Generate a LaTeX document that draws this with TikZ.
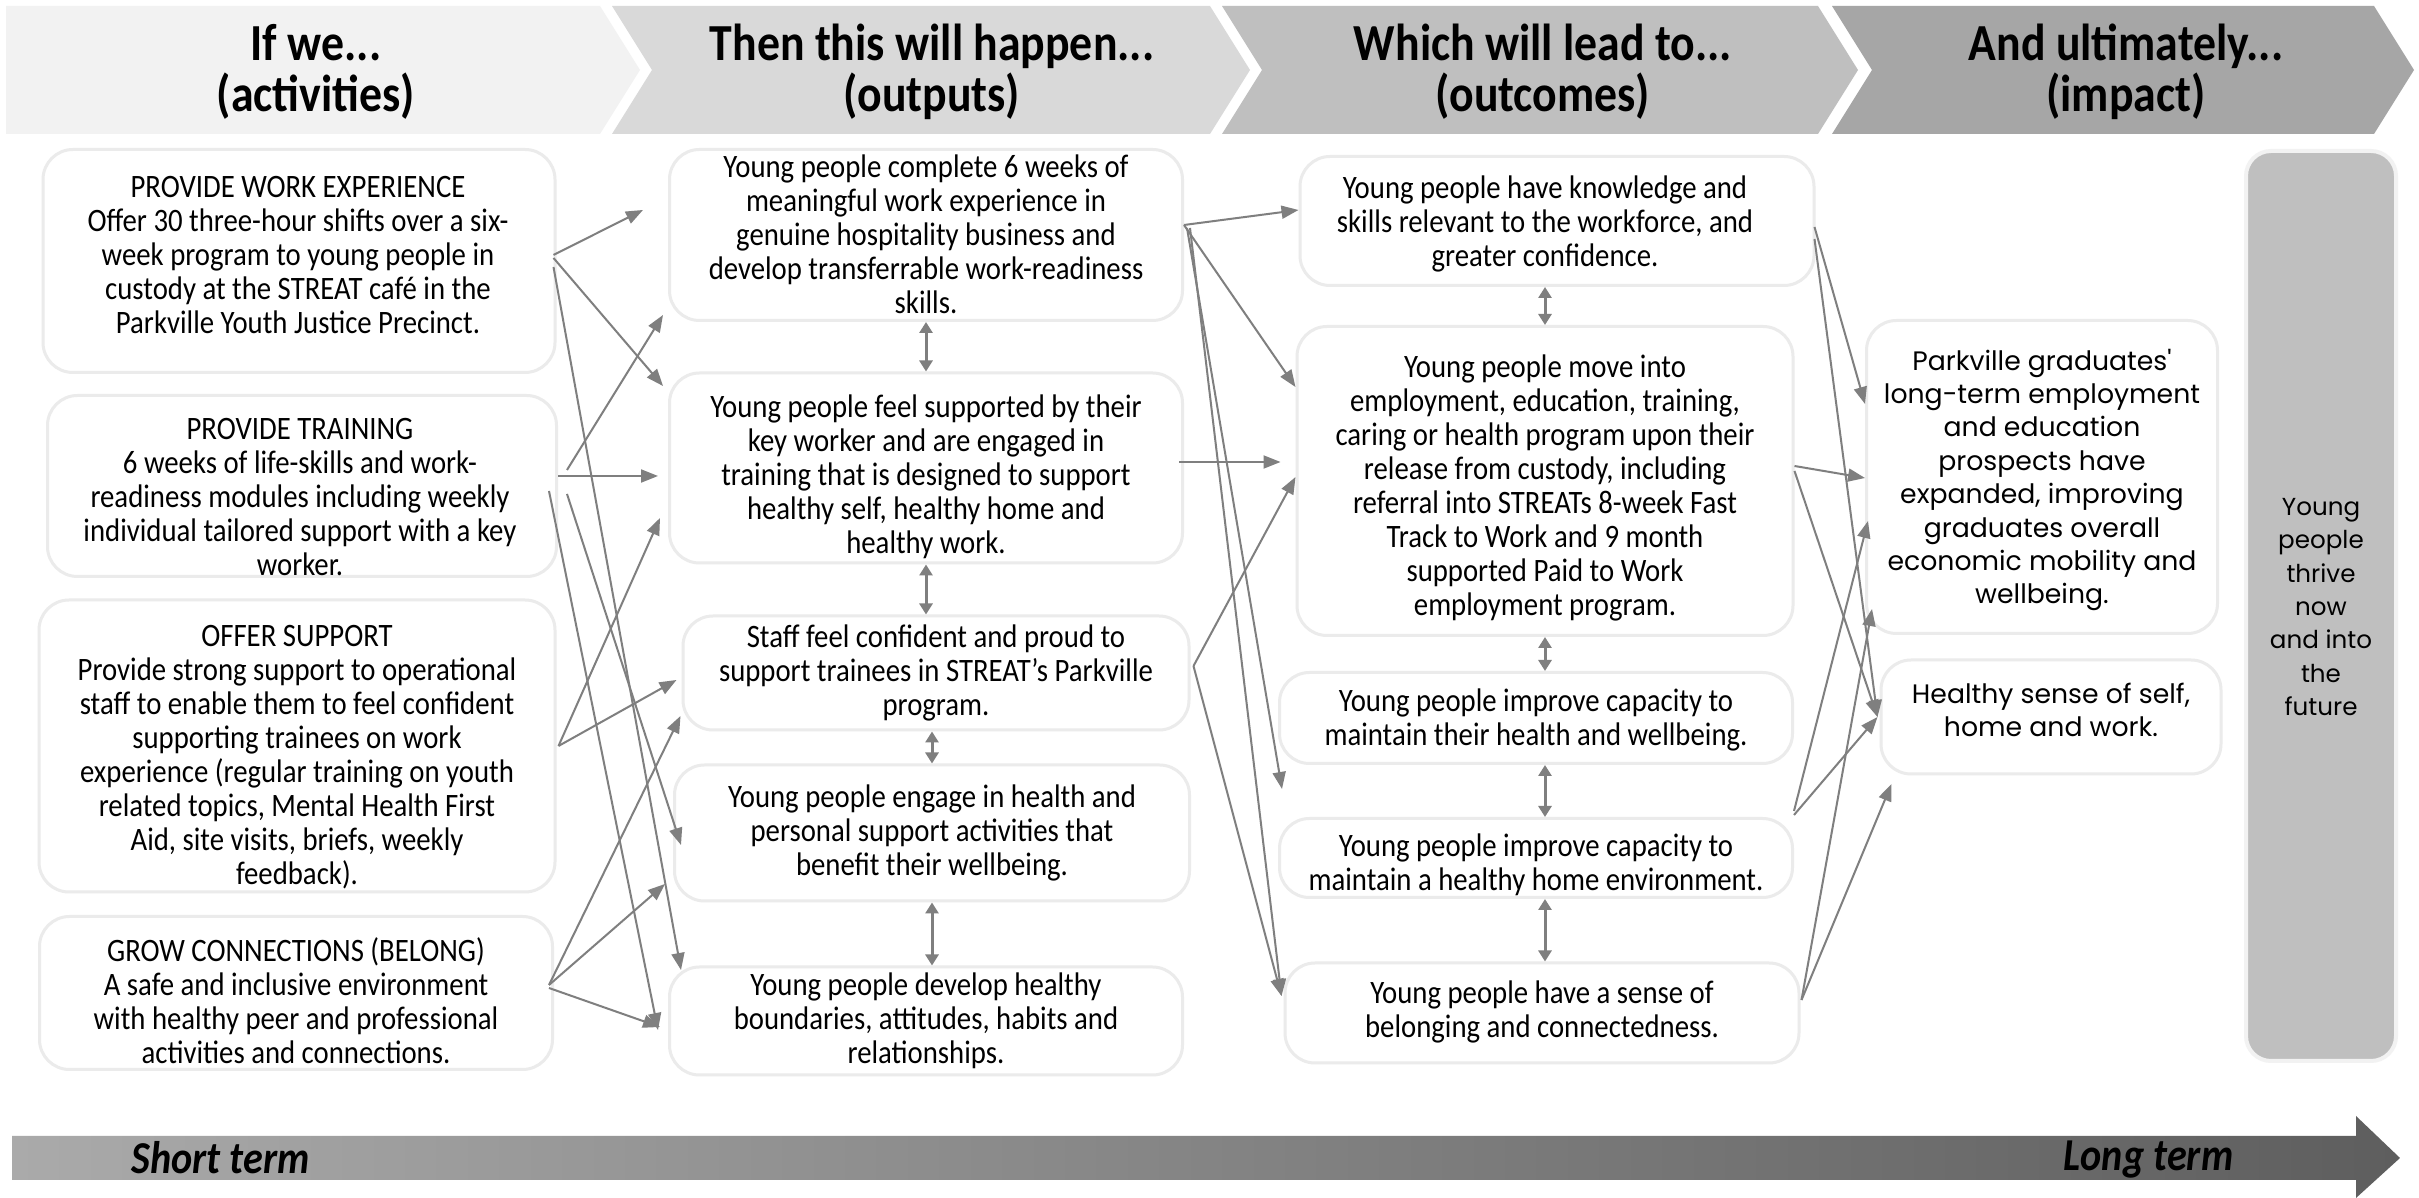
\documentclass[tikz,border=0pt]{standalone}
\usepackage{fontspec}
\setmainfont{Carlito}[FakeStretch=0.88]
\newfontfamily\wideface{Poppins}
\usepackage{tikz}
\usepackage{xcolor}
\usetikzlibrary{arrows.meta}
\usetikzlibrary{calc}
\usetikzlibrary{positioning}
\definecolor{linegray}{HTML}{7F7F7F}
\definecolor{edgegray}{HTML}{EBEBEB}
\definecolor{headA}{HTML}{F2F2F2}
\definecolor{headB}{HTML}{D9D9D9}
\definecolor{headC}{HTML}{BFBFBF}
\definecolor{headD}{HTML}{A6A6A6}
\definecolor{barL}{HTML}{AAAAAA}
\definecolor{barR}{HTML}{5E5E5E}

\begin{document}
\begin{tikzpicture}[x=0.1mm, y=-0.1mm,
	bx/.style 2 args={draw=edgegray, line width=0.3mm, rounded corners=3mm, fill=white, inner sep=0pt, minimum width=#1*0.1mm, minimum height=#2*0.1mm},
	txt/.style={align=center, inner sep=0pt, font=\fontsize{9.3}{9.7}\selectfont},
	widetxt/.style={align=center, inner sep=0pt, font=\wideface\fontsize{7.6}{9.5}\selectfont},
	head/.style={align=center, inner sep=0pt, font=\fontsize{14.8}{14.5}\selectfont\bfseries},
	term/.style={inner sep=0pt, font=\fontsize{13}{13}\selectfont\bfseries\itshape},
	conn/.style={draw=linegray, line width=0.2mm, -{Triangle[length=1.7mm, width=1.3mm]}},
	dbl/.style={draw=linegray, line width=0.3mm, {Triangle[length=1.1mm, width=1.3mm]}-{Triangle[length=1.1mm, width=1.3mm]}}]
	\useasboundingbox (0,0) rectangle (2419,1198);
	\fill[white] (0,0) rectangle (2419,1198);
	\foreach \xl/\xr/\nd/\col in {6/600/0/headA, 612/1210/40/headB, 1222/1818/40/headC, 1832/2374/40/headD} {
		\fill[\col] (\xl,6) -- (\xr,6) -- (\xr+40,70) -- (\xr,134) -- (\xl,134) -- (\xl+\nd,70) -- cycle;
	}
	\node[head] (h1) at (316,72) {If we...\\(activities)};
	\node[head] (h2) at (932,72) {Then this will happen...\\(outputs)};
	\node[head] (h3) at (1543,72) {Which will lead to...\\(outcomes)};
	\node[head] (h4) at (2126,72) {And ultimately...\\(impact)};

	\node[bx={512}{223}] (a1) at (299,261) {};
	\node[bx={509}{181}] (a2) at (302,486) {};
	\node[bx={516}{292}] (a3) at (297,746) {};
	\node[bx={513}{153}] (a4) at (296,993) {};
	\node[txt] (a1t) at (298,255) {PROVIDE WORK EXPERIENCE\\Offer 30 three-hour shifts over a six-\\week program to young people in\\custody at the STREAT café in the\\Parkville Youth Justice Precinct.};
	\node[txt] (a2t) at (300,497) {PROVIDE TRAINING\\6 weeks of life-skills and work-\\readiness modules including weekly\\individual tailored support with a key\\worker.};
	\node[txt] (a3t) at (297,757) {OFFER SUPPORT\\Provide strong support to operational\\staff to enable them to feel confident\\supporting trainees on work\\experience (regular training on youth\\related topics, Mental Health First\\Aid, site visits, briefs, weekly\\feedback).};
	\node[txt] (a4t) at (296,1001) {GROW CONNECTIONS (BELONG)\\A safe and inclusive environment\\with healthy peer and professional\\activities and connections.};

	\node[bx={513}{171}] (b1) at (926,235) {};
	\node[bx={513}{190}] (b2) at (926,468) {};
	\node[bx={506}{114}] (b3) at (936,673) {};
	\node[bx={515}{136}] (b4) at (932,833) {};
	\node[bx={513}{108}] (b5) at (926,1021) {};
	\node[txt] (b1t) at (926,234) {Young people complete 6 weeks of\\meaningful work experience in\\genuine hospitality business and\\develop transferrable work-readiness\\skills.};
	\node[txt] (b2t) at (926,477) {Young people feel supported by their\\key worker and are engaged in\\training that is designed to support\\healthy self, healthy home and\\healthy work.};
	\node[txt] (b3t) at (936,673) {Staff feel confident and proud to\\support trainees in STREAT’s Parkville\\program.};
	\node[txt] (b4t) at (932,833) {Young people engage in health and\\personal support activities that\\benefit their wellbeing.};
	\node[txt] (b5t) at (926,1021) {Young people develop healthy\\boundaries, attitudes, habits and\\relationships.};

	\node[bx={514}{129}] (c1) at (1557,221) {};
	\node[bx={496}{309}] (c2) at (1545,481) {};
	\node[bx={513}{91}] (c3) at (1536,718) {};
	\node[bx={513}{79}] (c4) at (1536,858) {};
	\node[bx={514}{100}] (c5) at (1542,1013) {};
	\node[txt] (c1t) at (1545,224) {Young people have knowledge and\\skills relevant to the workforce, and\\greater confidence.};
	\node[txt] (c2t) at (1545,488) {Young people move into\\employment, education, training,\\caring or health program upon their\\release from custody, including\\referral into STREATs 8-week Fast\\Track to Work and 9 month\\supported Paid to Work\\employment program.};
	\node[txt] (c3t) at (1536,720) {Young people improve capacity to\\maintain their health and wellbeing.};
	\node[txt] (c4t) at (1536,865) {Young people improve capacity to\\maintain a healthy home environment.};
	\node[txt] (c5t) at (1542,1012) {Young people have a sense of\\belonging and connectedness.};

	\node[bx={351}{313}] (d1) at (2042,477) {};
	\node[bx={340}{114}] (d2) at (2051,717) {};
	\node[widetxt] (d1t) at (2042,480) {Parkville graduates'\\long-term employment\\and education\\prospects have\\expanded, improving\\graduates overall\\economic mobility and\\wellbeing.};
	\node[widetxt] (d2t) at (2051,710) {Healthy sense of self,\\home and work.};

	\node[bx={150}{910}, fill=headC, draw=headA, line width=0.4mm, rounded corners=2.5mm] (e1) at (2321,606) {};
	\node[widetxt, font=\wideface\fontsize{7}{9.5}\selectfont] (e1t) at (2321,607) {Young\\people\\thrive\\now\\and into\\the\\future};

	\foreach \u/\v/\w in {b1/b2/b1, b2/b3/b2, b3/b4/b4, b4/b5/b4, c1/c2/c2, c2/c3/c2, c3/c4/c2, c4/c5/c2} {
		\draw[dbl] (\w |- \u.south) -- (\w |- \v.north);
	}

	\foreach \s/\sx/\sy/\t/\tx/\ty in {a1/-3/-6/b1/-25/-25, a1/-3/-3/b2/-5/-82, a1/-3/6/b5/13/-51,
		a2/9/-16/b1/-5/80, a2/0/-10/b2/-10/8, a2/9/8/b4/8/12, a2/-9/5/b5/-10/9,
		a3/2/0/b2/-8/50, a3/2/0/b3/-5/7,
		a4/-5/-8/b3/-1/43, a4/-5/-8/b4/-8/51, a4/-5/-5/b5/-8/6,
		b1/0/-10/c1/0/-11, b1/0/-10/c2/0/-94, b1/3/-7/c4/4/-69, b1/6/-7/c5/-2/-17,
		b2/-5/-6/c2/-15/-19, b3/3/-7/c2/0/-4, b3/3/-7/c5/-2/-17,
		c1/-1/6/d1/0/-73, c1/-1/18/d2/-2/0, c2/0/-15/d1/0/1, c2/0/-10/d2/-2/0,
		c4/0/-47/d1/3/44, c4/0/-43/d2/-2/0, c5/1/-13/d1/7/132, c5/1/-13/d2/12/67} {
		\draw[conn] ($(\s.east)+(\sx,\sy)$) -- ($(\t.west)+(\tx,\ty)$);
	}

	\shade[left color=barL, right color=barR] (12,1136) -- (2356,1136) -- (2356,1116) -- (2400,1158) -- (2356,1198) -- (2356,1180) -- (12,1180) -- cycle;
	\node[term, anchor=west] (short) at (131,1158) {Short term};
	\node[term, anchor=east] (long) at (2234,1160) {Long term};
\end{tikzpicture}
\end{document}
